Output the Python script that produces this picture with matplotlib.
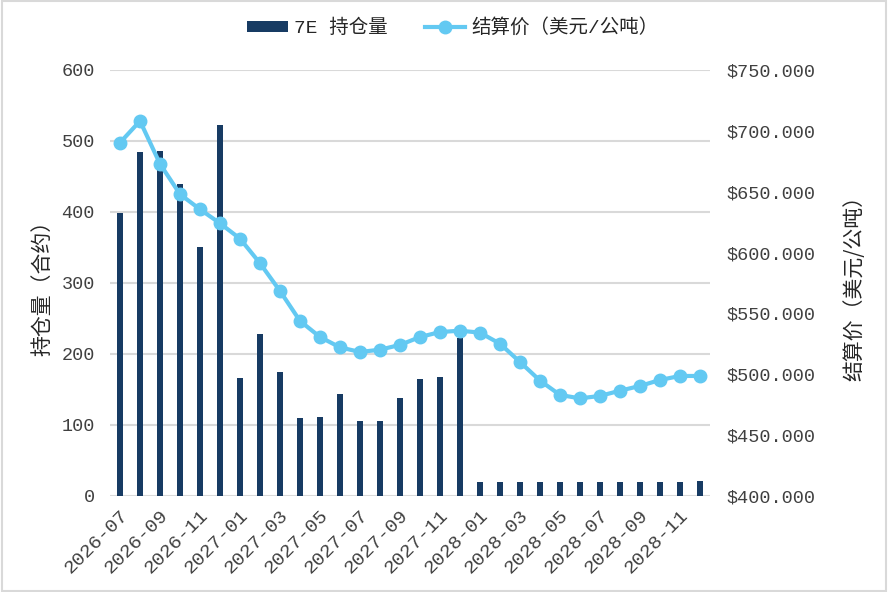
import matplotlib.pyplot as plt
from matplotlib.patches import Rectangle
from matplotlib.ticker import FuncFormatter

months = [
    "2026-07", "2026-08", "2026-09", "2026-10", "2026-11", "2026-12",
    "2027-01", "2027-02", "2027-03", "2027-04", "2027-05", "2027-06",
    "2027-07", "2027-08", "2027-09", "2027-10", "2027-11", "2027-12",
    "2028-01", "2028-02", "2028-03", "2028-04", "2028-05", "2028-06",
    "2028-07", "2028-08", "2028-09", "2028-10", "2028-11", "2028-12",
]
open_interest = [
    398, 484, 486, 439, 350, 522,
    166, 228, 174, 110, 111, 144,
    106, 106, 138, 165, 168, 222,
    20, 20, 20, 20, 20, 20,
    20, 20, 20, 20, 20, 21,
]
settle_price = [
    690.3, 708.1, 672.8, 647.9, 635.5, 624.0,
    611.4, 591.2, 568.4, 543.8, 530.6, 522.1,
    518.3, 520.2, 524.1, 530.6, 534.7, 535.8,
    534.2, 525.1, 510.1, 494.8, 483.0, 480.2,
    482.2, 486.5, 490.4, 495.3, 498.6, 498.6,
]
bar_label = "7E 持仓量"
line_label = "结算价（美元/公吨）"
left_ylabel = "持仓量（合约）"
right_ylabel = "结算价（美元/公吨）"

bar_color = "#173B63"
line_color = "#63C9F2"
grid_color = "#D9D9D9"
mono = ["Liberation Mono", "Noto Sans CJK SC"]
cjk = ["Noto Sans CJK SC", "DejaVu Sans"]

fig = plt.figure(figsize=(8.88, 5.92), dpi=100)
ax = fig.add_axes([0.1239, 0.1622, 0.6756, 0.7196])
ax2 = ax.twinx()

x = list(range(len(months)))
ax.bar(x, open_interest, width=0.33, color=bar_color, zorder=2, label=bar_label)
ax2.plot(x, settle_price, color=line_color, lw=3, marker="o", ms=9,
         zorder=3, label=line_label)

ax.set_ylim(0, 600)
ax.set_yticks(range(0, 601, 100))
ax2.set_ylim(400, 750)
ax2.set_yticks(range(400, 751, 50))
ax2.yaxis.set_major_formatter(FuncFormatter(lambda v, p: f"${v:.3f}"))
ax.set_xlim(-0.5, len(months) - 0.5)
ax.set_xticks(x[::2])
ax.set_xticklabels(months[::2], rotation=45, ha="right", rotation_mode="anchor",
                   family=mono, fontsize=14, color="#404040")

ax.grid(axis="y", color=grid_color, lw=1.5, zorder=0)
ax.set_axisbelow(True)
for a in (ax, ax2):
    for s in a.spines.values():
        s.set_visible(False)
    a.tick_params(length=0)
ax.tick_params(axis="y", pad=11)
ax.tick_params(axis="x", pad=8)
ax2.tick_params(axis="y", pad=12)
for lab in ax.get_yticklabels() + ax2.get_yticklabels():
    lab.set_family(mono)
    lab.set_fontsize(13.3)
    lab.set_color("#404040")

ax2.set_zorder(ax.get_zorder() + 1)
ax2.patch.set_visible(False)

ax.set_ylabel(left_ylabel, family=cjk, fontsize=15, color="#262626", labelpad=6)
ax2.set_ylabel(right_ylabel, family=cjk, fontsize=15, color="#262626", labelpad=20)

h1, l1 = ax.get_legend_handles_labels()
h2, l2 = ax2.get_legend_handles_labels()
leg = fig.legend(h1 + h2, l1 + l2, loc="center", bbox_to_anchor=(0.51, 0.953),
                 ncol=2, frameon=False, handlelength=2.1, handleheight=0.45,
                 columnspacing=1.9, handletextpad=0.3,
                 prop={"family": mono, "size": 14})
for t in leg.get_texts():
    t.set_color("#262626")

fig.patches.append(Rectangle((0.002, 0.002), 0.996, 0.996, transform=fig.transFigure,
                             fill=False, edgecolor="#D9D9D9", lw=1.5))

fig.savefig("out.png", dpi=100)
